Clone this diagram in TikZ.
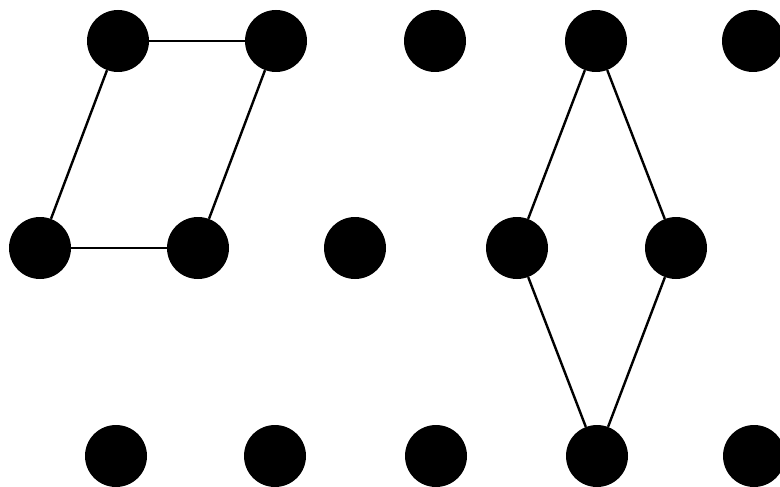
\documentclass[tikz,border=0pt]{standalone}
\begin{document}
\begin{tikzpicture}[x=1pt,y=-1pt,
  dot/.style={circle,fill=black,inner sep=0pt,minimum size=62pt},
  edge/.style={draw=black,line width=2.4pt}]
\useasboundingbox (0,0) rectangle (780,487);
\node[dot] (a1) at (118,41) {};
\node[dot] (a2) at (276,41) {};
\node[dot] (a3) at (435,41) {};
\node[dot] (a4) at (596,41) {};
\node[dot] (a5) at (753,41) {};
\node[dot] (b1) at (40,248) {};
\node[dot] (b2) at (198,248) {};
\node[dot] (b3) at (355,248) {};
\node[dot] (b4) at (517,248) {};
\node[dot] (b5) at (676,248) {};
\node[dot] (c1) at (116,456) {};
\node[dot] (c2) at (275,456) {};
\node[dot] (c3) at (436,456) {};
\node[dot] (c4) at (597,456) {};
\node[dot] (c5) at (754,456) {};
\draw[edge] (a1) -- (a2);
\draw[edge] (a1) -- (b1);
\draw[edge] (a2) -- (b2);
\draw[edge] (b1) -- (b2);
\draw[edge] (a4) -- (b4);
\draw[edge] (a4) -- (b5);
\draw[edge] (b4) -- (c4);
\draw[edge] (b5) -- (c4);
\end{tikzpicture}
\end{document}
